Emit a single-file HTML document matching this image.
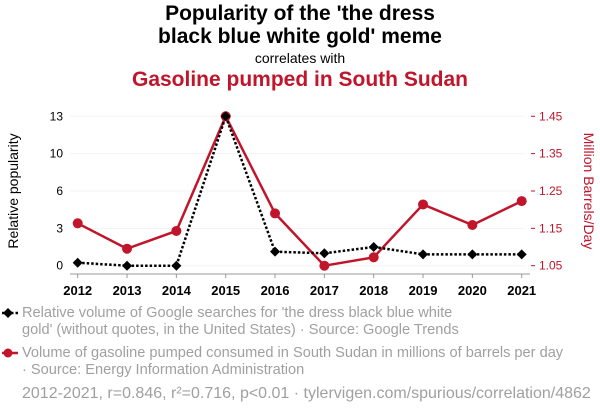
<!DOCTYPE html>
<html><head><meta charset="utf-8"><style>
body{margin:0;background:#fff;font-family:"Liberation Sans",sans-serif;}
#wrap{position:relative;width:600px;height:414px;overflow:hidden;}
.t{position:absolute;left:0;width:600px;text-align:center;}
.leg{position:absolute;left:22px;font-size:14.6px;color:#a0a0a0;line-height:17px;white-space:nowrap;}
</style></head><body>
<div id="wrap">
<div class="t" style="top:2px;font-size:21px;font-weight:bold;line-height:23px;color:#000">Popularity of the 'the dress<br>black blue white gold' meme</div>
<div class="t" style="top:50px;font-size:14px;color:#000">correlates with</div>
<div class="t" style="top:68px;font-size:21px;font-weight:bold;color:#c0152b">Gasoline pumped in South Sudan</div>
<svg id="svg" width="600" height="414" style="position:absolute;left:0;top:0"></svg>
<div class="leg" style="top:305px">Relative volume of Google searches for 'the dress black blue white<br>gold' (without quotes, in the United States) · Source: Google Trends</div>
<div class="leg" style="top:345px">Volume of gasoline pumped consumed in South Sudan in millions of barrels per day<br>· Source: Energy Information Administration</div>
<div class="leg" style="top:385px;font-size:16px">2012-2021, r=0.846, r²=0.716, p&lt;0.01 · tylervigen.com/spurious/correlation/4862</div>
</div>
<script>
const years=[2012,2013,2014,2015,2016,2017,2018,2019,2020,2021];
const popularity=[0.26,0,0,13,1.22,1.08,1.63,0.99,0.99,0.99];
const gasoline=[1.1635,1.0955,1.143,1.45,1.19,1.05,1.0725,1.214,1.159,1.223];
const leftTicks=[0,3,6,10,13];
const rightTicks=[1.05,1.15,1.25,1.35,1.45];
const NS='http://www.w3.org/2000/svg';
const svg=document.getElementById('svg');
const x0=77.7,x1=521.7,yb=265.7,yt=116.3;
const xs=i=>x0+(x1-x0)*i/(years.length-1);
const yl=v=>yb-(yb-yt)*v/13;
const yr=v=>yb-(yb-yt)*(v-1.05)/0.4;
function mk(tag,a){const e=document.createElementNS(NS,tag);for(const k in a)e.setAttribute(k,a[k]);svg.appendChild(e);return e;}
leftTicks.forEach((t,i)=>{const y=yb-(yb-yt)*i/4;
 const g=mk('line',{x1:70,x2:525,y1:y,y2:y,stroke:'#f3f3f3'});
 
 
 const tx=mk('text',{x:63,y:y+4,'text-anchor':'end','font-size':12,fill:'#000'});tx.textContent=t;
 
 
});
rightTicks.forEach(t=>{const y=yr(t);
 mk('line',{x1:531,x2:535,y1:y,y2:y,stroke:'#c0152b'});
 const tx=mk('text',{x:539,y:y+4,'font-size':12,fill:'#c0152b'});tx.textContent=t.toFixed(2);
 
 
});
const ax=mk('line',{x1:70,x2:530,y1:274,y2:274,stroke:'#999'});


years.forEach((yv,i)=>{
 mk('line',{x1:xs(i),x2:xs(i),y1:274,y2:278,stroke:'#999'});
 const tx=mk('text',{x:xs(i),y:295,'text-anchor':'middle','font-size':13,'font-weight':'bold',fill:'#000'});tx.textContent=yv;
 
 
});
let yl1=mk('text',{x:18,y:191,'text-anchor':'middle','font-size':14,fill:'#000',transform:'rotate(-90 18 191)'});yl1.textContent='Relative popularity';


let yl2=mk('text',{x:584,y:191,'text-anchor':'middle','font-size':14,fill:'#c0152b',transform:'rotate(90 584 191)'});yl2.textContent='Million Barrels/Day';


const rl=mk('polyline',{points:gasoline.map((v,i)=>xs(i)+','+yr(v)).join(' '),fill:'none',stroke:'#c0152b','stroke-width':2.5});


const bl=mk('polyline',{points:popularity.map((v,i)=>xs(i)+','+yl(v)).join(' '),fill:'none',stroke:'#000','stroke-width':2.5,'stroke-dasharray':'2.5,2'});


gasoline.forEach((v,i)=>{const c=mk('circle',{cx:xs(i),cy:yr(v),r:5,fill:'#c0152b'});
 
 });
popularity.forEach((v,i)=>{const x=xs(i),y=yl(v);const p=mk('polygon',{points:`${x},${y-5} ${x+5},${y} ${x},${y+5} ${x-5},${y}`,fill:'#000'});
 
 });
mk('line',{x1:2,x2:18,y1:313,y2:313,stroke:'#000','stroke-width':2.5,'stroke-dasharray':'2.5,2'});
mk('polygon',{points:'8,308 13,313 8,318 3,313',fill:'#000'});
mk('line',{x1:2,x2:18,y1:353,y2:353,stroke:'#c0152b','stroke-width':2.5});
mk('circle',{cx:8,cy:353,r:4.5,fill:'#c0152b'});
</script>
</body></html>
